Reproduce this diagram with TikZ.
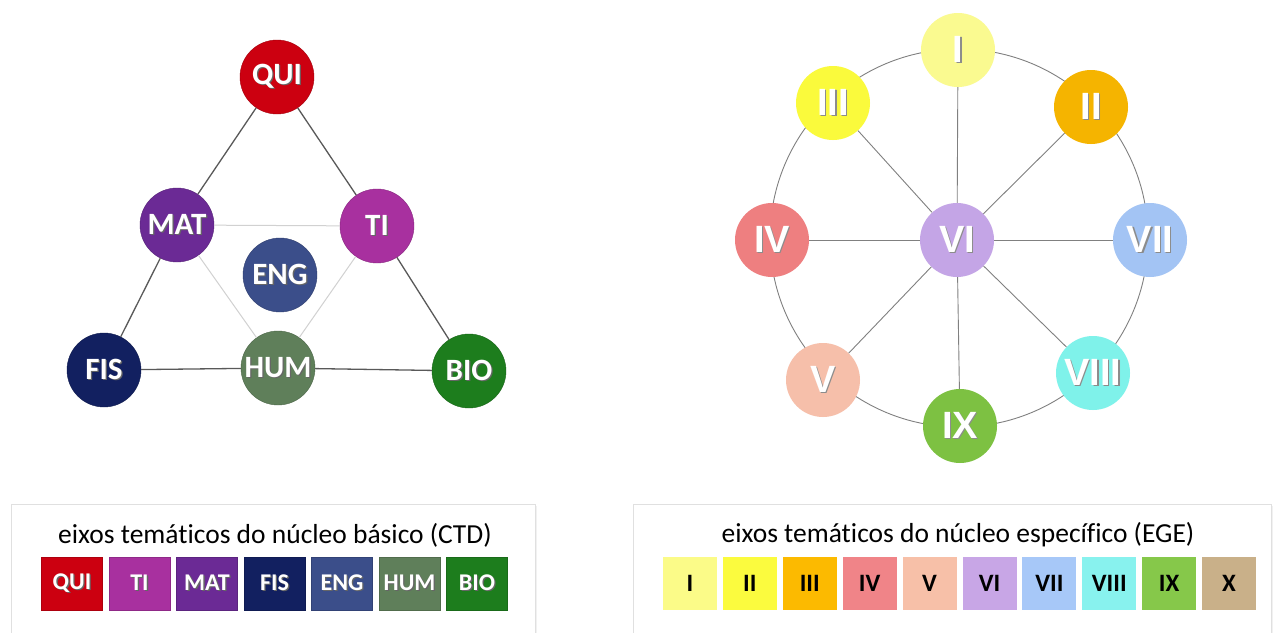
\documentclass[tikz,border=0pt]{standalone}
\usepackage{fontspec}
\setmainfont{Carlito}[Ligatures=NoCommon]
\newfontfamily\romfont{Liberation Sans}
\usetikzlibrary{shadows}
\definecolor{cQUI}{HTML}{CC0010}
\definecolor{cTI}{HTML}{A8309F}
\definecolor{cMAT}{HTML}{6B2A95}
\definecolor{cFIS}{HTML}{122060}
\definecolor{cENG}{HTML}{3B4E8A}
\definecolor{cHUM}{HTML}{5F7F5A}
\definecolor{cBIO}{HTML}{1D7D1D}
\definecolor{rI}{HTML}{FAFA90}
\definecolor{rII}{HTML}{F5B400}
\definecolor{rIII}{HTML}{FAFA3C}
\definecolor{rIV}{HTML}{EE7F80}
\definecolor{rV}{HTML}{F6BFAA}
\definecolor{rVI}{HTML}{C4A5E6}
\definecolor{rVII}{HTML}{A3C4F4}
\definecolor{rVIII}{HTML}{7FF2EA}
\definecolor{rIX}{HTML}{7DC142}
\definecolor{lI}{HTML}{FBFB88}
\definecolor{lII}{HTML}{FBFB3E}
\definecolor{lIII}{HTML}{FCBA00}
\definecolor{lIV}{HTML}{F08488}
\definecolor{lV}{HTML}{F7C0A8}
\definecolor{lVI}{HTML}{C8A6E6}
\definecolor{lVII}{HTML}{A7C8F8}
\definecolor{lVIII}{HTML}{88F2EE}
\definecolor{lIX}{HTML}{86C84A}
\definecolor{lX}{HTML}{C9B089}
\newcommand\shad[2][black!60]{\leavevmode\rlap{\kern1.3pt\raisebox{-1.3pt}{\color{#1}#2}}#2}
\tikzset{
  disc/.style={circle, minimum size=74pt, inner sep=0pt, text=white,
    font=\fontsize{31}{31}\selectfont\bfseries},
  rdisc/.style={circle, minimum size=74pt, inner sep=0pt, text=white,
    font=\romfont\fontsize{38}{38}\selectfont\bfseries},
  strong/.style={draw=black!65, line width=1.3pt},
  faint/.style={draw=black!18, line width=1pt},
  spoke/.style={draw=black!50, line width=0.9pt},
  legbox/.style={draw=black!12, fill=white, line width=0.8pt,
    drop shadow={shadow xshift=2pt, shadow yshift=-2pt, fill=black!10}},
  lsq/.style={minimum width=61pt, minimum height=53pt, inner sep=0pt, text=white,
    font=\fontsize{24}{24}\selectfont\bfseries},
  rsq/.style={minimum width=54pt, minimum height=53pt, inner sep=0pt, text=black,
    font=\fontsize{25}{25}\selectfont\bfseries},
  legtitle/.style={font=\fontsize{27.5}{27.5}\selectfont, text=black, inner sep=0pt}
}
\begin{document}
\begin{tikzpicture}[x=1pt,y=-1pt]
\useasboundingbox (0,0) rectangle (1274,632);
\fill[white] (0,0) rectangle (1274,632);

% ---- left triangle ----
\node[disc, fill=cQUI, draw=cQUI!80!black] (QUI) at (277,77) {\shad{QUI}};
\node[disc, fill=cMAT, draw=cMAT!80!black] (MAT) at (177,225) {\shad{MAT}};
\node[disc, fill=cTI, draw=cTI!80!black] (TI) at (377,226) {\shad{TI}};
\node[disc, fill=cENG, draw=cENG!80!black] (ENG) at (280,275) {\shad{ENG}};
\node[disc, fill=cFIS, draw=cFIS!80!black] (FIS) at (104,370) {\shad{FIS}};
\node[disc, fill=cHUM, draw=cHUM!80!black] (HUM) at (278,368) {\shad{HUM}};
\node[disc, fill=cBIO, draw=cBIO!80!black] (BIO) at (469,371) {\shad{BIO}};
\draw[strong] (QUI) -- (MAT);
\draw[strong] (QUI) -- (TI);
\draw[strong] (MAT) -- (FIS);
\draw[strong] (TI) -- (BIO);
\draw[strong] (FIS) -- (HUM);
\draw[strong] (HUM) -- (BIO);
\draw[faint] (MAT) -- (TI);
\draw[faint] (MAT) -- (HUM);
\draw[faint] (TI) -- (HUM);

% ---- right wheel ----
\coordinate (ringc) at (959,238);
\draw[spoke] (ringc) circle[radius=189];
\node[rdisc, fill=rI] (rI) at (958,50) {\shad[black!45]{I}};
\node[rdisc, fill=rII] (rII) at (1091,107) {\shad[black!45]{II}};
\node[rdisc, fill=rIII] (rIII) at (833,103) {\shad[black!45]{III}};
\node[rdisc, fill=rIV] (rIV) at (772,240) {\shad[black!45]{IV}};
\node[rdisc, fill=rVI] (rVI) at (957,240) {\shad[black!45]{VI}};
\node[rdisc, fill=rVII] (rVII) at (1150,240) {\shad[black!45]{VII}};
\node[rdisc, fill=rV] (rV) at (823,380) {\shad[black!45]{V}};
\node[rdisc, fill=rVIII] (rVIII) at (1093,373) {\shad[black!45]{VIII}};
\node[rdisc, fill=rIX] (rIX) at (960,426) {\shad[black!45]{IX}};
\foreach \n in {rI,rII,rIII,rIV,rVII,rV,rVIII,rIX}
  \draw[spoke] (rVI) -- (\n);

% ---- left legend ----
\path[legbox] (11,504) rectangle (535,650);
\node[legtitle] (tl) at (275,535) {eixos temáticos do núcleo básico (CTD)};
\foreach \lab/\col [count=\i from 0] in {QUI/cQUI,TI/cTI,MAT/cMAT,FIS/cFIS,ENG/cENG,HUM/cHUM,BIO/cBIO}
  \node[lsq, fill=\col, draw=\col!85!black, line width=0.5pt] (L\lab) at ({72+67.5*\i},583.5) {\shad{\lab}};

% ---- right legend ----
\path[legbox] (633,504) rectangle (1271,650);
\node[legtitle] (tr) at (958,535) {eixos temáticos do núcleo específico (EGE)};
\foreach \lab [count=\i from 0] in {I,II,III,IV,V,VI,VII,VIII,IX,X}
  \node[rsq, fill=l\lab] (R\lab) at ({690+59.9*\i},583.5) {\lab};
\end{tikzpicture}
\end{document}
